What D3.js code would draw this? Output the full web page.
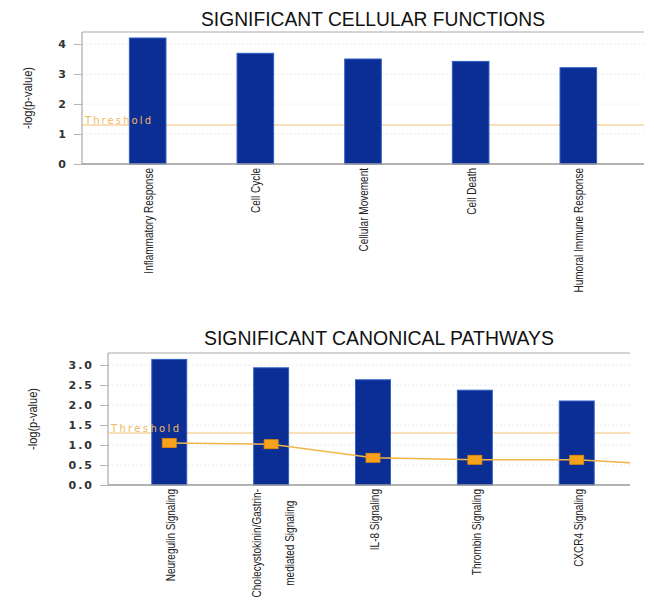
<!DOCTYPE html>
<html>
<head>
<meta charset="utf-8">
<script src="https://cdn.jsdelivr.net/npm/d3@7"></script>
<style>
  html, body { margin: 0; padding: 0; background: #fff; }
  svg { display: block; }
</style>
</head>
<body>
<svg id="chart" width="654" height="615"></svg>
<script>
// ---- data ----
const topTitle = "SIGNIFICANT CELLULAR FUNCTIONS";
const topCategories = ["Inflammatory Response", "Cell Cycle", "Cellular Movement", "Cell Death", "Humoral Immune Response"];
const topValues = [4.2, 3.69, 3.5, 3.42, 3.21];
const topTicks = [0, 1, 2, 3, 4];
const topTickLabels = ["0", "1", "2", "3", "4"];

const bottomTitle = "SIGNIFICANT CANONICAL PATHWAYS";
const bottomCategories = ["Neuregulin Signaling", "Cholecystokinin/Gastrin-\nmediated Signaling", "IL-8 Signaling", "Thrombin Signaling", "CXCR4 Signaling"];
const bottomValues = [3.14, 2.93, 2.63, 2.37, 2.1];
const bottomRatios = [1.05, 1.02, 0.68, 0.63, 0.63];
const bottomRatioNext = 0.49; // continuation of the ratio line past the last category
const bottomTicks = [0, 0.5, 1, 1.5, 2, 2.5, 3];
const bottomTickLabels = ["0.0", "0.5", "1.0", "1.5", "2.0", "2.5", "3.0"];

const thresholdValue = 1.3;
const yAxisTitle = "-log(p-value)";
const thresholdLabel = "Threshold";

// ---- drawing ----
const svg = d3.select("#chart");
const BAR = "#0b2e94", BAR_EDGE = "#2f5fc4";
const TH_LINE = "#f2c071", TH_TEXT = "#f0b95e";
const RATIO_LINE = "#f2b54a", RATIO_FILL = "#f6a21c", RATIO_STROKE = "#e58d00";
const LABEL_FONT = "'Liberation Sans', Arial, sans-serif";

function panel(cfg) {
  const g = svg.append("g");
  const x = d3.scaleBand().domain(cfg.categories).range([cfg.left, cfg.bandRight])
    .paddingInner(cfg.pIn).paddingOuter(cfg.pOut);
  const y = d3.scaleLinear().domain([0, cfg.yMax]).range([cfg.bottom, cfg.top]);

  // title
  g.append("text").attr("x", cfg.titleX).attr("y", cfg.titleY)
    .attr("text-anchor", "middle")
    .attr("font-family", LABEL_FONT).attr("font-size", 20).attr("fill", "#111")
    .attr("textLength", cfg.titleLen).attr("lengthAdjust", "spacingAndGlyphs")
    .text(cfg.title);

  // gridlines
  g.append("g").selectAll("line").data(cfg.ticks.filter(d => d > 0)).join("line")
    .attr("x1", cfg.left).attr("x2", cfg.right)
    .attr("y1", d => y(d)).attr("y2", d => y(d))
    .attr("stroke", "#ececec").attr("stroke-dasharray", "2,2");

  // y axis
  const yAxis = d3.axisLeft(y).tickValues(cfg.ticks)
    .tickFormat((d, i) => cfg.tickLabels[i]).tickSize(8).tickPadding(6);
  const ya = g.append("g").attr("transform", `translate(${cfg.left},0)`).call(yAxis);
  ya.select(".domain").attr("stroke", "#9a9a9a").attr("d", `M0,${cfg.top}V${cfg.bottom}`);
  ya.selectAll(".tick line").attr("stroke", "#b5b5b5");
  ya.selectAll(".tick text").attr("font-family", "'DejaVu Sans', Verdana, sans-serif")
    .attr("font-weight", "bold").attr("font-size", 11).attr("fill", "#333")
    .attr("letter-spacing", "2px").attr("dy", "0.34em");

  // frame: top border
  g.append("line").attr("x1", cfg.left).attr("x2", cfg.right)
    .attr("y1", cfg.top).attr("y2", cfg.top).attr("stroke", "#a8a8a8");

  // threshold line (behind bars)
  const ty = y(thresholdValue);
  g.append("line").attr("x1", cfg.left).attr("x2", cfg.right)
    .attr("y1", ty).attr("y2", ty).attr("stroke", TH_LINE).attr("stroke-width", 1.2);

  // bars
  g.append("g").selectAll("rect").data(cfg.values).join("rect")
    .attr("x", (d, i) => x(cfg.categories[i]))
    .attr("width", x.bandwidth())
    .attr("y", d => y(d))
    .attr("height", d => y(0) - y(d))
    .attr("fill", BAR).attr("stroke", BAR_EDGE).attr("stroke-width", 1);

  g.append("line").attr("x1", cfg.left).attr("x2", cfg.right)
    .attr("y1", cfg.bottom).attr("y2", cfg.bottom).attr("stroke", "#9a9a9a").attr("stroke-width", 1.5);

  // threshold label
  g.append("text").attr("x", cfg.left + 3).attr("y", ty - 1.5)
    .attr("font-family", "'DejaVu Sans', Verdana, sans-serif").attr("font-size", 10)
    .attr("fill", TH_TEXT).attr("textLength", cfg.thLen).attr("lengthAdjust", "spacing")
    .text(thresholdLabel);

  // ratio line
  if (cfg.ratios) {
    const clipId = "clip" + cfg.id;
    svg.append("clipPath").attr("id", clipId).append("rect")
      .attr("x", cfg.left).attr("y", cfg.top).attr("width", cfg.right - cfg.left).attr("height", cfg.bottom - cfg.top);
    const cx = i => x(cfg.categories[i]) + x.bandwidth() / 2;
    const pts = cfg.ratios.map((v, i) => [cx(i), y(v)]);
    pts.push([cx(cfg.ratios.length - 1) + x.step(), y(cfg.ratioNext)]);
    g.append("path").attr("clip-path", `url(#${clipId})`)
      .attr("d", d3.line()(pts)).attr("fill", "none")
      .attr("stroke", RATIO_LINE).attr("stroke-width", 1.5);
    g.append("g").selectAll("rect").data(cfg.ratios).join("rect")
      .attr("x", (d, i) => cx(i) - 7).attr("y", d => y(d) - 4.5)
      .attr("width", 14).attr("height", 9)
      .attr("fill", RATIO_FILL).attr("stroke", RATIO_STROKE).attr("stroke-width", 0.8);
  }

  // y title
  g.append("text")
    .attr("transform", `translate(${cfg.yTitleX},${(cfg.top + cfg.bottom) / 2}) rotate(-90) scale(0.92,1)`)
    .attr("text-anchor", "middle").attr("dominant-baseline", "central")
    .attr("font-family", LABEL_FONT).attr("font-size", 12).attr("fill", "#222")
    .text(yAxisTitle);

  // x labels (rotated, condensed)
  const SX = 0.77;
  cfg.categories.forEach((c, i) => {
    const lines = c.split("\n");
    const cxp = x(c) + x.bandwidth() / 2 + cfg.labelShift;
    const lg = g.append("g")
      .attr("transform", `translate(${cxp},${cfg.bottom + 4}) rotate(-90) scale(${SX},1)`);
    const texts = lines.map((ln, k) => lg.append("text")
      .attr("font-family", LABEL_FONT).attr("font-size", 13).attr("fill", "#222")
      .attr("dominant-baseline", "central")
      .attr("y", (k - (lines.length - 1) / 2) * cfg.lineGap)
      .text(ln));
    if (lines.length === 1) {
      texts[0].attr("text-anchor", "end").attr("x", 0);
    } else {
      const maxLen = d3.max(texts, t => t.node().getComputedTextLength());
      texts.forEach(t => t.attr("text-anchor", "middle").attr("x", -maxLen / 2));
    }
  });
}

panel({
  id: "top", title: topTitle, categories: topCategories, values: topValues,
  ticks: topTicks, tickLabels: topTickLabels, yMax: 4.4,
  left: 82, right: 644, bandRight: 644, pIn: 0.66, pOut: 0.44,
  top: 32, bottom: 164, titleX: 373, titleY: 26, titleLen: 344,
  thLen: 66, yTitleX: 28, labelShift: 0, lineGap: 32
});

panel({
  id: "bottom", title: bottomTitle, categories: bottomCategories, values: bottomValues,
  ratios: bottomRatios, ratioNext: bottomRatioNext,
  ticks: bottomTicks, tickLabels: bottomTickLabels, yMax: 3.3,
  left: 108, right: 630, bandRight: 638, pIn: 0.657, pOut: 0.43,
  top: 353, bottom: 485, titleX: 379, titleY: 345, titleLen: 350,
  thLen: 68, yTitleX: 33, labelShift: 1, lineGap: 33
});
</script>
</body>
</html>
